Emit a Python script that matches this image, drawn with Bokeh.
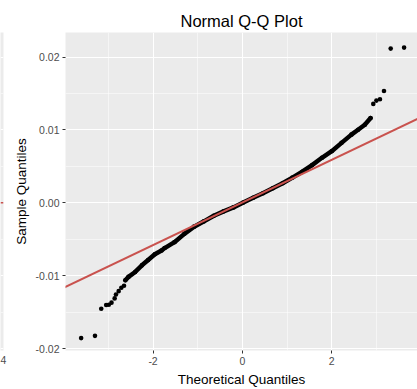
from bokeh.plotting import figure
from bokeh.layouts import row
from bokeh.models import FixedTicker, Slope, Range1d, Span, CustomJSTickFormatter
from bokeh.embed import file_html
from bokeh.resources import INLINE

FONT = "Liberation Sans"

title_text = "Normal Q-Q Plot"
x_label = "Theoretical Quantiles"
y_label = "Sample Quantiles"
x_ticks = [-2, 0, 2]
x_tick_labels = ["-2", "0", "2"]
x_minor = [-3, -1, 1, 3]
y_ticks = [-0.02, -0.01, 0.0, 0.01, 0.02]
y_tick_labels = ["-0.02", "-0.01", "0.00", "0.01", "0.02"]
y_minor = [-0.015, -0.005, 0.005, 0.015]

# lower tail (isolated points)
tail_lo_x = [-3.61, -3.30, -3.16, -3.05, -2.99, -2.93, -2.86, -2.83, -2.77, -2.71, -2.65]
tail_lo_y = [-0.01857, -0.01826, -0.01453, -0.01403, -0.01398, -0.01370, -0.01312,
             -0.01258, -0.01212, -0.01166, -0.01139]
# dense central band
band_x = [-2.62, -2.55, -2.40, -2.25, -2.11, -1.96, -1.81, -1.74, -1.52, -1.30, -1.08,
          -0.86, -0.64, -0.42, -0.20, 0.02, 0.24, 0.46, 0.68, 0.90, 1.12, 1.34, 1.56,
          1.78, 2.00, 2.22, 2.44, 2.59, 2.74, 2.87]
band_y = [-0.01062, -0.01017, -0.00949, -0.00858, -0.00785, -0.00705, -0.00654, -0.00621,
          -0.00540, -0.00426, -0.00327, -0.00254, -0.00177, -0.00117, -0.00063, 0.00005,
          0.00069, 0.00132, 0.00200, 0.00268, 0.00346, 0.00427, 0.00518, 0.00618, 0.00709,
          0.00823, 0.00936, 0.01004, 0.01072, 0.01163]
# upper tail (isolated points)
tail_hi_x = [2.93, 3.00, 3.08, 3.17, 3.32, 3.62]
tail_hi_y = [0.01358, 0.01403, 0.01422, 0.01535, 0.02117, 0.02131]

# reference line (qqline)
line_slope = 0.00293
line_intercept = 0.00005

# partially visible neighbouring panel (cropped at the left edge)
side_x_ticks = [4]
side_x_tick_labels = ["4"]
side_hline = 0.0

X_RANGE = (-3.96, 3.92)
Y_RANGE = (-0.02027, 0.02338)
SIDE_X_RANGE = (3.5, 4.02)
PANEL_BG = "#EBEBEB"
TICK_COLOR = "#4D4D4D"
RED = "#C9524E"


def fmt(tick_values, tick_labels):
    return CustomJSTickFormatter(args=dict(tvals=tick_values, tlabs=tick_labels), code="""
        const i = tvals.findIndex(t => Math.abs(t - tick) < 1e-9);
        return i >= 0 ? tlabs[i] : "";
    """)


# ---------- left sliver (cropped neighbouring panel) ----------
s = figure(width=10, height=389, x_range=Range1d(*SIDE_X_RANGE), y_range=Range1d(*Y_RANGE),
           output_backend="svg", toolbar_location=None,
           x_axis_location="below", y_axis_location=None,
           min_border_left=0, min_border_right=7, min_border_top=32, min_border_bottom=36,
           background_fill_color=PANEL_BG, border_fill_color="white", outline_line_color=None)
s.xgrid.visible = False
s.xaxis.ticker = FixedTicker(ticks=side_x_ticks)
s.xaxis.formatter = fmt(side_x_ticks, side_x_tick_labels)
s.xaxis.axis_line_color = None
s.xaxis.major_tick_line_color = None
s.xaxis.minor_tick_line_color = None
s.xaxis.major_tick_out = 3
s.xaxis.major_label_standoff = 2
s.xaxis.major_label_text_font = FONT
s.xaxis.major_label_text_font_size = "10.5px"
s.xaxis.major_label_text_color = TICK_COLOR
s.ygrid.ticker = FixedTicker(ticks=y_ticks, minor_ticks=y_minor)
s.ygrid.grid_line_color = "white"
s.ygrid.grid_line_width = 1.1
s.ygrid.minor_grid_line_color = "white"
s.ygrid.minor_grid_line_width = 0.5
s.add_layout(Span(location=side_hline, dimension="width", line_color=RED, line_width=1.5))

# ---------- main panel ----------
p = figure(width=407, height=389, x_range=Range1d(*X_RANGE), y_range=Range1d(*Y_RANGE),
           output_backend="svg", toolbar_location=None,
           min_border_left=49, min_border_right=0, min_border_top=32, min_border_bottom=36,
           background_fill_color=PANEL_BG, border_fill_color="white", outline_line_color=None)

p.title.text = title_text
p.title.align = "center"
p.title.text_font = FONT
p.title.text_font_size = "16.5px"
p.title.text_font_style = "normal"
p.title.text_color = "black"
p.title.standoff = 6

p.xaxis.ticker = FixedTicker(ticks=x_ticks, minor_ticks=x_minor)
p.yaxis.ticker = FixedTicker(ticks=y_ticks, minor_ticks=y_minor)
p.xaxis.formatter = fmt(x_ticks, x_tick_labels)
p.yaxis.formatter = fmt(y_ticks, y_tick_labels)
p.xaxis.axis_label = x_label
p.yaxis.axis_label = y_label

for ax in (p.xaxis, p.yaxis):
    ax.axis_line_color = None
    ax.major_tick_line_color = "#333333"
    ax.major_tick_line_width = 1
    ax.major_tick_in = 0
    ax.major_tick_out = 3
    ax.minor_tick_line_color = None
    ax.major_label_text_font = FONT
    ax.major_label_text_font_size = "10.5px"
    ax.major_label_text_color = TICK_COLOR
    ax.major_label_standoff = 2
    ax.axis_label_text_font = FONT
    ax.axis_label_text_font_size = "13.5px"
    ax.axis_label_text_font_style = "normal"
    ax.axis_label_text_color = "black"
    ax.axis_label_standoff = 4

for g in (p.xgrid, p.ygrid):
    g.grid_line_color = "white"
    g.grid_line_width = 1.1
    g.minor_grid_line_color = "white"
    g.minor_grid_line_width = 0.5
p.xgrid.ticker = FixedTicker(ticks=x_ticks, minor_ticks=x_minor)
p.ygrid.ticker = FixedTicker(ticks=y_ticks, minor_ticks=y_minor)

# points
p.line(band_x, band_y, line_color="black", line_width=4.5, line_join="round", line_cap="round")
all_x = tail_lo_x + band_x + tail_hi_x
all_y = tail_lo_y + band_y + tail_hi_y
p.scatter(all_x, all_y, size=4.6, fill_color="black", line_color=None)

# reference line
p.add_layout(Slope(gradient=line_slope, y_intercept=line_intercept, line_color=RED, line_width=2))

layout = row(s, p, spacing=0)
open("out.html", "w").write(file_html(layout, INLINE))
